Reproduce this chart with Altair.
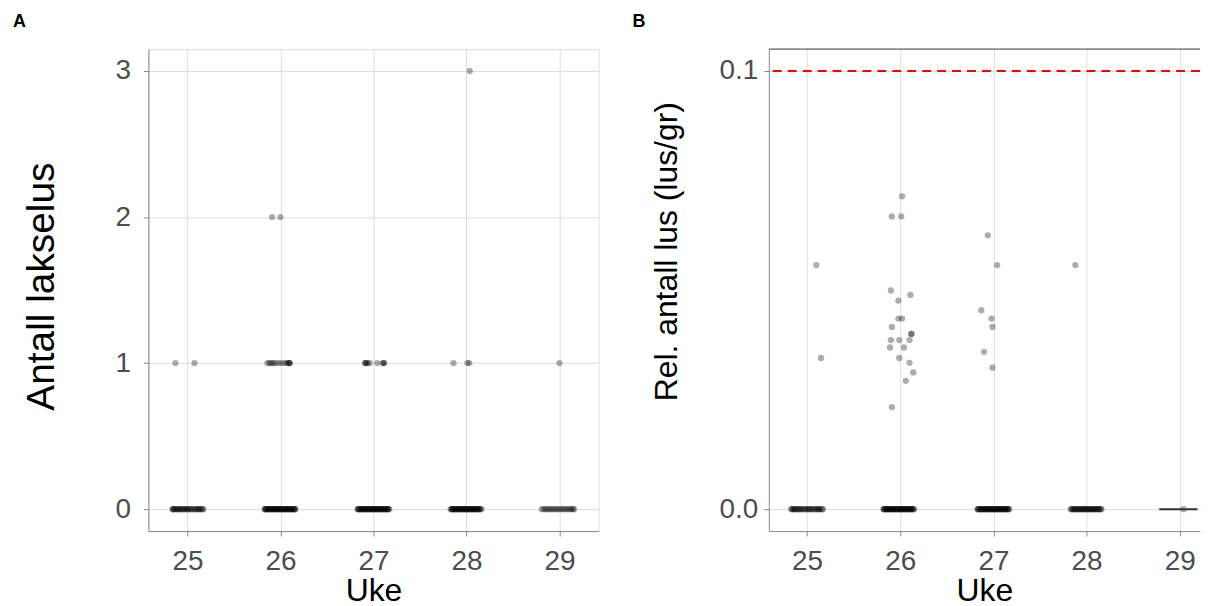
import altair as alt
import pandas as pd

WEEKS = [25, 26, 27, 28, 29]

# ---------- Panel A: lice count per fish (jittered week position) ----------
A_NZ_X = [24.87, 25.075,
          25.86, 25.88, 25.90, 25.92, 25.94, 25.97, 26.00, 26.03, 26.06, 26.08, 26.09, 26.10, 26.10,
          26.91, 26.915, 26.92, 26.94, 26.96, 27.04, 27.10, 27.11, 27.115,
          27.86, 28.01, 28.03,
          29.00,
          25.91, 26.00,
          28.035]
A_NZ_Y = [1, 1,
          1, 1, 1, 1, 1, 1, 1, 1, 1, 1, 1, 1, 1,
          1, 1, 1, 1, 1, 1, 1, 1, 1,
          1, 1, 1,
          1,
          2, 2,
          3]

# jitter offsets of the fish with zero lice, per week
A_ZERO_25 = [-0.16, -0.155, -0.15, -0.14, -0.12, -0.11, -0.10, -0.09, -0.08, -0.06, -0.05, -0.04,
             -0.03, -0.01, 0.00, 0.01, 0.02, 0.04, 0.05, 0.07, 0.08, 0.10, 0.11, 0.12, 0.13,
             0.15, 0.16, 0.17]
A_ZERO_26 = [-0.17, -0.165, -0.16, -0.15, -0.14, -0.135, -0.13, -0.12, -0.11, -0.10, -0.095, -0.09,
             -0.08, -0.07, -0.065, -0.06, -0.05, -0.04, -0.035, -0.03, -0.02, -0.01, 0.00, 0.005,
             0.01, 0.02, 0.03, 0.04, 0.045, 0.05, 0.06, 0.07, 0.08, 0.085, 0.09, 0.10, 0.11,
             0.12, 0.125, 0.13, 0.14, 0.15, 0.155, 0.16]
A_ZERO_27 = [-0.17, -0.165, -0.16, -0.15, -0.14, -0.13, -0.125, -0.12, -0.11, -0.10, -0.09, -0.085,
             -0.08, -0.07, -0.06, -0.05, -0.045, -0.04, -0.03, -0.02, -0.01, -0.005, 0.00, 0.01,
             0.02, 0.03, 0.035, 0.04, 0.05, 0.06, 0.07, 0.075, 0.08, 0.09, 0.10, 0.11, 0.115,
             0.12, 0.13, 0.14, 0.15, 0.155, 0.16, 0.17]
A_ZERO_28 = [-0.17, -0.16, -0.155, -0.15, -0.14, -0.13, -0.12, -0.115, -0.11, -0.10, -0.09, -0.08,
             -0.075, -0.07, -0.06, -0.05, -0.04, -0.035, -0.03, -0.02, -0.01, 0.00, 0.005, 0.01,
             0.02, 0.03, 0.04, 0.045, 0.05, 0.06, 0.07, 0.08, 0.085, 0.09, 0.10, 0.11, 0.12,
             0.125, 0.13, 0.14, 0.15, 0.16]
A_ZERO_29 = [-0.19, -0.17, -0.15, -0.13, -0.11, -0.09, -0.07, -0.05, -0.03, -0.01, 0.01, 0.03,
             0.05, 0.07, 0.09, 0.11, 0.13, 0.145, 0.155]

# ---------- Panel B: relative lice count (lice per gram) ----------
B_NZ_X = [25.10, 25.15,
          26.02, 25.91, 26.01, 25.90, 26.11, 25.98, 25.98, 26.02, 25.91, 26.12, 26.12,
          25.90, 25.99, 26.10, 25.89, 26.04, 25.99, 26.10, 26.14, 26.06, 25.91,
          26.94, 27.04, 26.87, 26.98, 26.99, 26.90, 26.99,
          27.88]
B_NZ_Y = [0.0557, 0.0345,
          0.0714, 0.0668, 0.0668, 0.0499, 0.0489, 0.0476, 0.0435, 0.0435, 0.0416, 0.0400, 0.0400,
          0.0386, 0.0386, 0.0386, 0.0369, 0.0369, 0.0345, 0.0334, 0.0312, 0.0293, 0.0233,
          0.0625, 0.0557, 0.0454, 0.0435, 0.0416, 0.0359, 0.0323,
          0.0557]

B_ZERO_25 = [-0.17, -0.16, -0.15, -0.14, -0.13, -0.12, -0.10, -0.09, -0.08, -0.07, -0.05, -0.04,
             -0.02, -0.01, 0.01, 0.02, 0.03, 0.05, 0.06, 0.08, 0.09, 0.11, 0.12, 0.13, 0.14,
             0.16, 0.17]
B_ZERO_26 = [-0.18, -0.175, -0.17, -0.16, -0.15, -0.145, -0.14, -0.13, -0.12, -0.11, -0.105, -0.10,
             -0.09, -0.08, -0.075, -0.07, -0.06, -0.05, -0.04, -0.035, -0.03, -0.02, -0.01, 0.00,
             0.005, 0.01, 0.02, 0.03, 0.04, 0.045, 0.05, 0.06, 0.07, 0.08, 0.085, 0.09, 0.10,
             0.11, 0.12, 0.125, 0.13, 0.14, 0.15]
B_ZERO_27 = [-0.17, -0.165, -0.16, -0.15, -0.14, -0.13, -0.125, -0.12, -0.11, -0.10, -0.09, -0.085,
             -0.08, -0.07, -0.06, -0.05, -0.045, -0.04, -0.03, -0.02, -0.01, -0.005, 0.00, 0.01,
             0.02, 0.03, 0.035, 0.04, 0.05, 0.06, 0.07, 0.075, 0.08, 0.09, 0.10, 0.11, 0.115,
             0.12, 0.13, 0.14, 0.15, 0.155, 0.16, 0.17]
B_ZERO_28 = [-0.17, -0.16, -0.15, -0.14, -0.13, -0.12, -0.11, -0.10, -0.09, -0.08, -0.07, -0.06,
             -0.05, -0.04, -0.03, -0.02, -0.01, 0.00, 0.01, 0.02, 0.03, 0.04, 0.05, 0.06, 0.07,
             0.08, 0.09, 0.10, 0.11, 0.12, 0.13, 0.14, 0.15, 0.16]
B_ZERO_29_POINT = [0.04]
B_ZERO_29_SPAN = [-0.22, 0.19]

REF_LINE = [0.1]

A_ZERO = {25: A_ZERO_25, 26: A_ZERO_26, 27: A_ZERO_27, 28: A_ZERO_28, 29: A_ZERO_29}
B_ZERO = {25: B_ZERO_25, 26: B_ZERO_26, 27: B_ZERO_27, 28: B_ZERO_28, 29: B_ZERO_29_POINT}


def build(nz_x, nz_y, zeros):
    xs, ys = [], []
    for w in WEEKS:
        for o in zeros[w]:
            xs.append(w + o)
            ys.append(0)
    xs += nz_x
    ys += nz_y
    return pd.DataFrame({"x": xs, "y": ys})


dfA = build(A_NZ_X, A_NZ_Y, A_ZERO)
dfB = build(B_NZ_X, B_NZ_Y, B_ZERO)
df29 = pd.DataFrame({"x": [29 + B_ZERO_29_SPAN[0]], "x2": [29 + B_ZERO_29_SPAN[1]], "y": [0]})
dfRef = pd.DataFrame({"y": REF_LINE})

FONT = "Liberation Sans"
PT_SIZE = 40
PT_OPA = 0.32
FRAME = "#333333"

xscaleA = alt.Scale(domain=[24.58, 29.42], nice=False, zero=False)
xscaleB = alt.Scale(domain=[24.59, 29.217], nice=False, zero=False)

x_axis = dict(values=WEEKS, format="d", title="Uke", labelPadding=12, titlePadding=0,
              labelFontSize=28, titleFontSize=32, titleFontWeight="normal",
              labelColor="#4d4d4d", titleColor="black")

pointsA = alt.Chart(dfA).mark_circle(size=PT_SIZE, color="black", opacity=PT_OPA).encode(
    x=alt.X("x:Q", scale=xscaleA, axis=alt.Axis(**x_axis)),
    y=alt.Y("y:Q", scale=alt.Scale(domain=[-0.15, 3.15], nice=False),
            axis=alt.Axis(values=[0, 1, 2, 3], title="Antall lakselus", labelPadding=13,
                          titlePadding=54, labelFontSize=28, titleFontSize=39,
                          titleFontWeight="normal", titleY=238, titleAlign="center",
                          labelColor="#4d4d4d", titleColor="black")),
)

chartA = alt.layer(pointsA).properties(
    width=452, height=484,
    title=alt.Title("A", anchor="start", frame="group", dx=-136, fontSize=18, fontWeight="bold",
                    font=FONT, offset=18, color="black"),
)

pointsB = alt.Chart(dfB).mark_circle(size=PT_SIZE, color="black", opacity=PT_OPA).encode(
    x=alt.X("x:Q", scale=xscaleB, axis=alt.Axis(**x_axis)),
    y=alt.Y("y:Q", scale=alt.Scale(domain=[-0.005, 0.105], nice=False),
            axis=alt.Axis(values=[0, 0.1], format=".1f", title="Rel. antall lus (lus/gr)",
                          labelPadding=6, titlePadding=36, labelFontSize=28, titleFontSize=32,
                          titleFontWeight="normal", titleY=203, titleAlign="center",
                          labelColor="#4d4d4d", titleColor="black")),
)
line29 = alt.Chart(df29).mark_rule(color="#333333", strokeWidth=2).encode(
    x="x:Q", x2="x2:Q", y="y:Q"
)
refB = alt.Chart(dfRef).mark_rule(color="#ff0000", strokeWidth=2, strokeDash=[9, 6]).encode(
    y="y:Q"
)
# top edge of panel B's frame (its right edge lies outside the picture)
topB = alt.Chart(dfRef).mark_rule(color=FRAME, strokeWidth=1).encode(
    y=alt.value(0)
)

chartB = alt.layer(pointsB, line29, refB, topB).properties(
    width=433, height=484,
    view=alt.ViewBackground(stroke="transparent"),
    title=alt.Title("B", anchor="start", frame="group", dx=-137, fontSize=18, fontWeight="bold",
                    font=FONT, offset=18, color="black"),
)

chart = alt.hconcat(chartA, chartB, spacing=32).properties(
    padding={"left": 4, "top": 3, "right": 0, "bottom": 0},
).configure_view(
    stroke=FRAME, strokeWidth=1
).configure_axis(
    grid=True, gridColor="#ebebeb", gridWidth=1,
    domainColor=FRAME, tickColor=FRAME, tickSize=5,
    labelFont=FONT, titleFont=FONT,
).configure(background="white")

chart.save("out.html", embed_options={"renderer": "svg", "actions": False})
